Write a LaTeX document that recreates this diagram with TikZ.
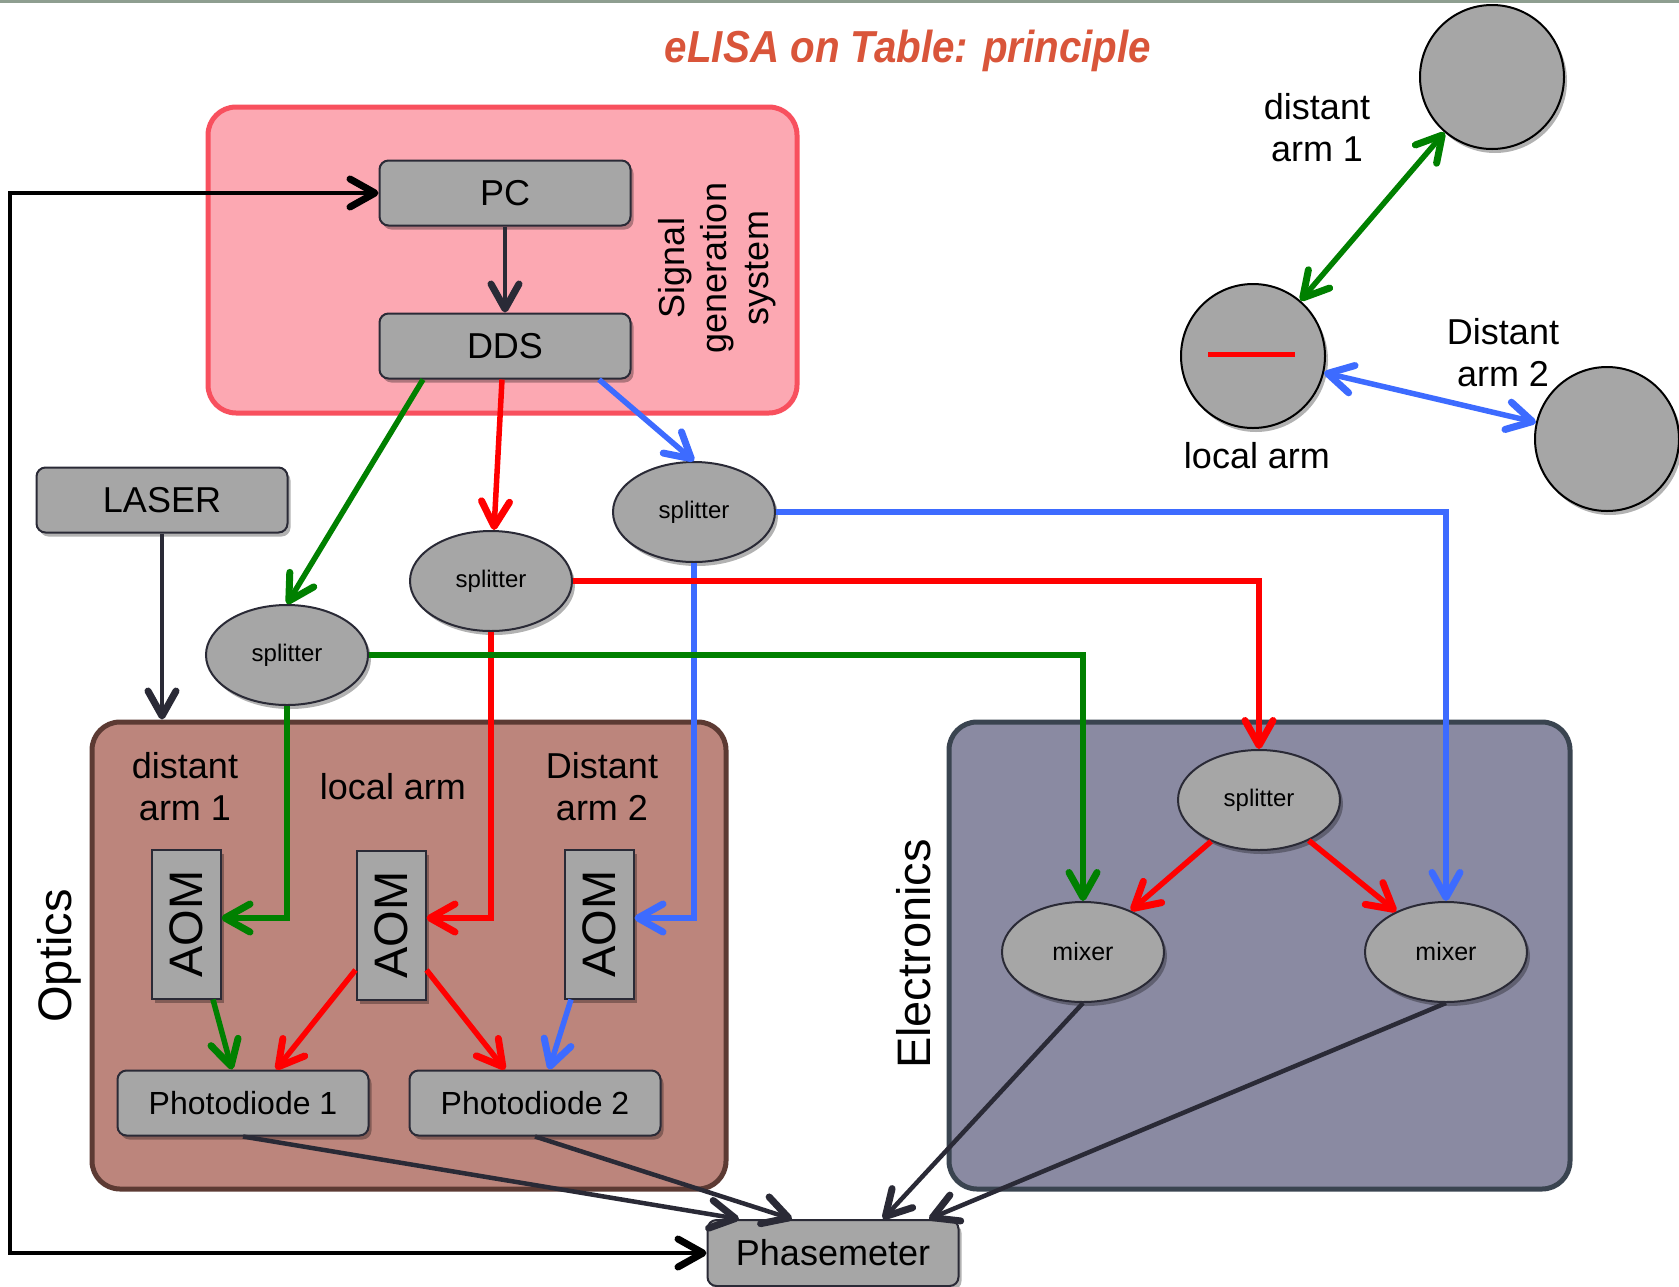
\documentclass[tikz,border=0pt]{standalone}
\usepackage{fontspec}
\usepackage{graphicx}
\setmainfont{Liberation Sans}
\newfontfamily\titlefont[FakeStretch=0.9]{Liberation Sans}
\usetikzlibrary{arrows.meta,shadows,shapes.geometric}

\definecolor{sgfill}{HTML}{FCA8B2}
\definecolor{sgdraw}{HTML}{F8505E}
\definecolor{opfill}{HTML}{BC857C}
\definecolor{opdraw}{HTML}{5C3A33}
\definecolor{elfill}{HTML}{8A8AA2}
\definecolor{eldraw}{HTML}{3A4450}
\definecolor{boxgray}{HTML}{A6A6A6}
\definecolor{edgec}{HTML}{2A2A36}
\definecolor{lgreen}{HTML}{008000}
\definecolor{lred}{HTML}{FF0000}
\definecolor{lblue}{HTML}{3D6BFF}
\definecolor{titlec}{HTML}{D9553A}
\definecolor{topline}{HTML}{8E9E90}

\begin{document}
\begin{tikzpicture}[x=1pt,y=-1pt,
  >={Straight Barb[length=25pt,width=28pt,line width=7pt,round]},
  shad/.style={drop shadow={shadow xshift=3pt,shadow yshift=-4pt,opacity=0.3,fill=black}},
  gbox/.style={draw=edgec,line width=2pt,fill=boxgray,rounded corners=9pt,inner sep=0pt,
    minimum width=251pt,minimum height=65pt,shad,font=\fontsize{36}{40}\selectfont},
  aombox/.style={draw=edgec,line width=2pt,fill=boxgray,inner sep=0pt,
    minimum width=69pt,minimum height=149pt,shad,font=\fontsize{47}{50}\selectfont},
  split/.style={ellipse,draw=edgec,line width=2pt,fill=boxgray,inner sep=0pt,
    minimum width=162pt,minimum height=100pt,shad,font=\fontsize{24}{28}\selectfont},
  arm/.style={circle,draw=black,line width=2pt,fill=boxgray,inner sep=0pt,minimum size=144pt,shad},
  region/.style={line width=5pt,rounded corners=28pt,inner sep=0pt},
  lbl/.style={align=center,font=\fontsize{36}{42}\selectfont},
  biglbl/.style={rotate=90,font=\fontsize{47}{50}\selectfont},
  dk/.style={draw=edgec,line width=4.5pt,->},
  gr/.style={draw=lgreen,line width=5.5pt,->},
  rd/.style={draw=lred,line width=5.5pt,->},
  bl/.style={draw=lblue,line width=5.5pt,->}
]
\useasboundingbox (0,0) rectangle (1679,1286);
\fill[white] (0,0) rectangle (1679,1286);
\draw[topline,line width=3pt] (0,1.5) -- (1679,1.5);

% title
\node[text=titlec,font=\titlefont\fontsize{44.8}{48}\selectfont\bfseries\itshape] (title) at (908,51) {eLISA on Table: principle};

% regions
\node[region,draw=sgdraw,fill=sgfill,minimum width=589pt,minimum height=306pt] (sg) at (502.5,260) {};
\node[region,draw=opdraw,fill=opfill,minimum width=634pt,minimum height=467pt] (opt) at (409,955.5) {};
\node[region,draw=eldraw,fill=elfill,minimum width=621pt,minimum height=467pt] (ele) at (1259.5,955.5) {};

\node[lbl,rotate=90] (sglbl) at (717,268) {Signal\\generation\\system};
\node[biglbl] (optlbl) at (59,956) {Optics};
\node[biglbl] (elelbl) at (914,954) {Electronics};

% boxes
\node[gbox] (pc) at (505,193) {PC};
\node[gbox] (dds) at (505,346) {DDS};
\node[gbox] (laser) at (162,500) {LASER};
\node[gbox,font=\fontsize{32}{36}\selectfont] (pd1) at (243,1103) {Photodiode 1};
\node[gbox,font=\fontsize{32}{36}\selectfont] (pd2) at (535,1103) {Photodiode 2};
\node[gbox,minimum height=66pt] (ph) at (833,1253) {Phasemeter};

\node[aombox] (aom1) at (186,924) {\rotatebox{90}{AOM}};
\node[aombox] (aom2) at (391,925) {\rotatebox{90}{AOM}};
\node[aombox] (aom3) at (599,924) {\rotatebox{90}{AOM}};

\node[split] (sB) at (694,512) {splitter};
\node[split] (sR) at (491,581) {splitter};
\node[split] (sG) at (287,655) {splitter};
\node[split] (sE) at (1259,800) {splitter};
\node[split,font=\fontsize{25}{28}\selectfont] (mL) at (1083,952) {mixer};
\node[split,font=\fontsize{25}{28}\selectfont] (mR) at (1446,952) {mixer};

% optics labels
\node[lbl] (l1) at (185,787) {distant\\arm 1};
\node[lbl] (l2) at (393,787) {local arm};
\node[lbl] (l3) at (602,787) {Distant\\arm 2};

% arm circles
\node[arm] (cD1) at (1492,77) {};
\node[arm] (cL) at (1253,356) {};
\node[arm] (cD2) at (1607,439) {};
\coordinate (redL) at (1208,354);
\coordinate (redR) at (1295,354);
\draw[lred,line width=5pt] (redL) -- (redR);
\node[lbl] (t1) at (1317,128) {distant\\arm 1};
\node[lbl] (t2) at (1503,353) {Distant\\arm 2};
\node[lbl] (t3) at (1257,456) {local arm};
\draw[gr,<->] (cL) -- (cD1);
\draw[bl,<->] (cL) -- (cD2);

% connectors
\draw[dk] (pc) -- (dds);
\draw[dk] (laser.south) -- (laser.south |- opt.north);
\coordinate (fbx) at (10,0);
\draw[draw=black,line width=4.5pt,<->] (pc.west) -- (pc.west -| fbx) -- (ph.west -| fbx) -- (ph.west);

\draw[gr] ([xshift=-82pt]dds.south) -- (sG.north);
\draw[rd] ([xshift=-3pt]dds.south) -- ([xshift=3pt]sR.north);
\draw[bl] ([xshift=94pt]dds.south) -- (sB.north);

\draw[bl] (sB.east) -| (mR.north);
\draw[bl] (sB.south) |- ([yshift=6pt]aom3.east);
\draw[rd] (sR.east) -| (sE.north);
\draw[rd] (sR.south) |- ([yshift=7pt]aom2.east);
\draw[gr] (sG.east) -| (mL.north);
\draw[gr] (sG.south) |- ([yshift=6pt]aom1.east);

\draw[rd] (sE) -- (mL);
\draw[rd] (sE) -- (mR);

\draw[gr] ([xshift=27pt]aom1.south) -- ([xshift=-11pt]pd1.north);
\draw[rd] ([yshift=-45pt]aom2.west) -- ([xshift=33pt]pd1.north);
\draw[rd] ([yshift=-45pt]aom2.east) -- ([xshift=-30pt]pd2.north);
\draw[bl] ([xshift=-28pt]aom3.south) -- ([xshift=14pt]pd2.north);

\draw[dk] (pd1.south) -- ([xshift=-94pt]ph.north);
\draw[dk] (pd2.south) -- ([xshift=-41pt]ph.north);
\draw[dk] (mL.south) -- ([xshift=50pt]ph.north);
\draw[dk] (mR.south) -- ([xshift=96pt]ph.north);
\end{tikzpicture}
\end{document}
